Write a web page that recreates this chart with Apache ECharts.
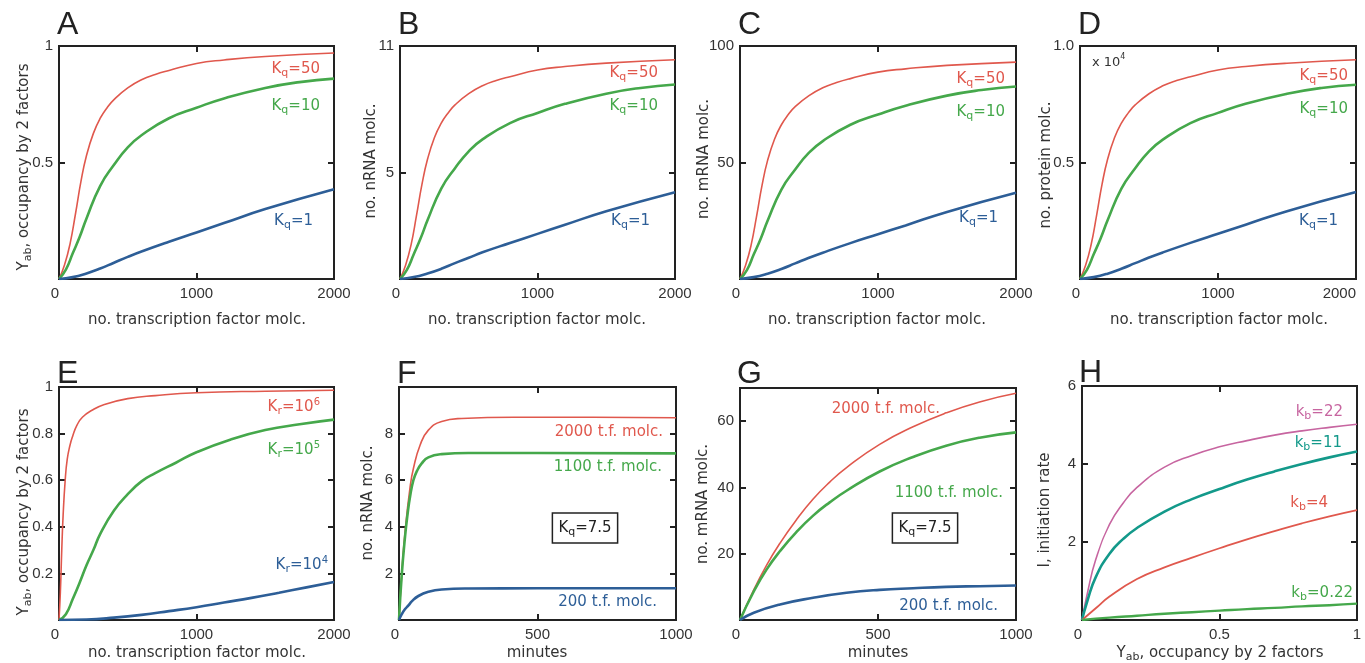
<!DOCTYPE html>
<html><head><meta charset="utf-8">
<script src="https://cdn.jsdelivr.net/npm/echarts@6/dist/echarts.min.js"></script>
<style>html,body{margin:0;padding:0;background:#fff}#c{width:1365px;height:663px}</style>
</head><body><div id="c"></div>
<script>
// ---------- DATA ----------
// Panels A-D : x = no. transcription factor molc.
const AD_x_red   = [0,40,80,120,160,200,250,300,350,400,500,600,700,800,1000,1200,1500,2000];
const AD_x_green = [0,50,100,150,200,300,400,500,600,800,1000,1200,1500,1750,2000];
const AD_x_blue  = [0,100,200,300,400,500,600,800,1000,1200,1500,2000];

const A_red   = [0,0.06,0.15,0.28,0.42,0.53,0.625,0.69,0.735,0.77,0.82,0.855,0.878,0.895,0.925,0.94,0.955,0.97];
const A_green = [0,0.04,0.11,0.18,0.26,0.40,0.49,0.565,0.617,0.69,0.735,0.775,0.82,0.845,0.86];
const A_blue  = [0,0.008,0.024,0.045,0.07,0.095,0.118,0.16,0.2,0.24,0.3,0.385];

const B_red   = [0,0.64,1.6,3.0,4.48,5.65,6.67,7.36,7.84,8.22,8.75,9.12,9.37,9.55,9.87,10.03,10.19,10.35];
const B_green = [0,0.43,1.17,1.92,2.77,4.27,5.23,6.03,6.59,7.36,7.84,8.27,8.75,9.02,9.18];
const B_blue  = [0,0.09,0.26,0.48,0.75,1.0,1.26,1.7,2.13,2.56,3.2,4.1];

const C_red   = [0,5.8,14.4,26.9,40.3,50.9,60,66.2,70.6,74,78.7,82.1,84.3,86,88.8,90.2,91.7,93.1];
const C_green = [0,3.8,10.6,17.3,25,38.4,47,54.2,59.2,66.2,70.6,74.4,78.7,81.1,82.6];
const C_blue  = [0,0.8,2.3,4.3,6.7,9.1,11.3,15.4,19.2,23,28.8,37];

const D_red   = [0,0.058,0.146,0.272,0.407,0.514,0.606,0.669,0.713,0.747,0.795,0.829,0.852,0.868,0.897,0.912,0.926,0.941];
const D_green = [0,0.039,0.107,0.175,0.252,0.388,0.475,0.548,0.598,0.669,0.713,0.752,0.795,0.82,0.834];
const D_blue  = [0,0.008,0.023,0.044,0.068,0.092,0.114,0.155,0.194,0.233,0.291,0.373];

// Panel E
const E_x_red   = [0,10,20,30,45,60,80,100,130,170,240,330,500,700,1000,1500,2000];
const E_red     = [0,0.12,0.3,0.45,0.6,0.69,0.75,0.79,0.835,0.87,0.9,0.925,0.95,0.963,0.975,0.982,0.986];
const E_x_green = [0,50,100,150,200,250,300,400,500,600,700,850,1000,1250,1500,1750,2000];
const E_green   = [0,0.025,0.09,0.16,0.235,0.3,0.37,0.47,0.54,0.595,0.63,0.675,0.72,0.775,0.815,0.84,0.86];
const E_x_blue  = [0,200,400,600,800,1000,1200,1400,1600,1800,2000];
const E_blue    = [0,0.002,0.01,0.022,0.038,0.055,0.075,0.095,0.117,0.14,0.163];

// Panel F : minutes
const F_x_red   = [0,10,22,40,52,76,106,154,226,413,700,1000];
const F_red     = [0,2.0,3.8,5.7,6.5,7.5,8.15,8.52,8.65,8.7,8.7,8.68];
const F_x_green = [0,10,22,31,40,52,65,82,106,154,250,500,1000];
const F_green   = [0,1.95,3.6,4.55,5.3,6.0,6.4,6.72,6.98,7.12,7.17,7.17,7.15];
const F_x_blue  = [0,10,22,35,46,70,106,154,250,500,1000];
const F_blue    = [0,0.25,0.47,0.64,0.8,1.03,1.21,1.31,1.35,1.36,1.36];

// Panel G : minutes
const G_x      = [0,48,96,145,205,265,325,386,506,627,747,868,1000];
const G_red    = [0,8.8,16.5,23.2,30.3,36.5,41.6,46,53,58.3,62.5,65.8,68.4];
const G_green  = [0,8.3,15.2,20.8,26.6,31.5,35.5,39,44.8,49.2,52.6,55,56.6];
const G_x_blue = [0,50,145,265,386,506,627,747,868,1000];
const G_blue   = [0,2.2,4.7,6.7,8.2,9.1,9.6,10,10.2,10.4];

// Panel H : Yab
const H_x      = [0,0.02,0.05,0.1,0.15,0.2,0.3,0.4,0.5,0.6,0.7,0.8,0.9,1];
const H_mag    = [0,0.7,1.55,2.45,3.0,3.4,3.92,4.22,4.44,4.6,4.74,4.85,4.94,5.02];
const H_teal   = [0,0.5,1.1,1.7,2.08,2.36,2.78,3.1,3.36,3.6,3.81,4.0,4.17,4.32];
const H_x_red  = [0,0.05,0.1,0.2,0.3,0.4,0.5,0.6,0.7,0.8,0.9,1];
const H_red    = [0,0.3,0.6,1.05,1.35,1.6,1.84,2.07,2.28,2.48,2.66,2.82];
const H_x_grn  = [0,0.1,0.2,0.3,0.4,0.5,0.6,0.7,0.8,0.9,1];
const H_grn    = [0,0.06,0.11,0.16,0.2,0.24,0.28,0.31,0.35,0.38,0.42];

// Tick / label values
const X2000_labels = [0,1000,2000], X2000_ticks = [1000];
const X1000_labels = [0,500,1000],  X1000_ticks = [500];
const X1_labels    = [0,0.5,1],     X1_ticks    = [0.5];

// ---------- STYLE ----------
const COL = {red:'#e0584d', green:'#45a84b', blue:'#2d5e97', mag:'#c765a0', teal:'#13998a'};
const zip = (xs, ys) => xs.map((x, i) => [x, ys[i]]);

const panels = [
  {g:[59,46,275,233],  xmax:2000, xl:X2000_labels, xt:X2000_ticks, ymax:1,   yl:[0.5,1],  yt:[0.5],
   s:[[AD_x_red,A_red,COL.red,1.6],[AD_x_green,A_green,COL.green,2.6],[AD_x_blue,A_blue,COL.blue,2.6]]},
  {g:[400,46,275,233], xmax:2000, xl:X2000_labels, xt:X2000_ticks, ymax:11,  yl:[5,11],   yt:[5],
   s:[[AD_x_red,B_red,COL.red,1.6],[AD_x_green,B_green,COL.green,2.6],[AD_x_blue,B_blue,COL.blue,2.6]]},
  {g:[740,46,276,233], xmax:2000, xl:X2000_labels, xt:X2000_ticks, ymax:100, yl:[50,100], yt:[50],
   s:[[AD_x_red,C_red,COL.red,1.6],[AD_x_green,C_green,COL.green,2.6],[AD_x_blue,C_blue,COL.blue,2.6]]},
  {g:[1080,46,276,233],xmax:2000, xl:X2000_labels, xt:X2000_ticks, ymax:1,   yl:[0.5,1],  yt:[0.5], yfmt:v=>Number(v).toFixed(1), xr:true,
   s:[[AD_x_red,D_red,COL.red,1.6],[AD_x_green,D_green,COL.green,2.6],[AD_x_blue,D_blue,COL.blue,2.6]]},
  {g:[59,387,275,233], xmax:2000, xl:X2000_labels, xt:X2000_ticks, ymax:1,   yl:[0.2,0.4,0.6,0.8,1], yt:[0.2,0.4,0.6,0.8],
   s:[[E_x_red,E_red,COL.red,1.6],[E_x_green,E_green,COL.green,2.6],[E_x_blue,E_blue,COL.blue,2.6]]},
  {g:[399,387,277,233],xmax:1000, xl:X1000_labels, xt:X1000_ticks, ymax:10,  yl:[2,4,6,8], yt:[2,4,6,8],
   s:[[F_x_red,F_red,COL.red,1.6],[F_x_green,F_green,COL.green,2.6],[F_x_blue,F_blue,COL.blue,2.6]]},
  {g:[740,388,276,232],xmax:1000, xl:X1000_labels, xt:X1000_ticks, ymax:70,  yl:[20,40,60], yt:[20,40,60],
   s:[[G_x,G_red,COL.red,1.6],[G_x,G_green,COL.green,2.6],[G_x_blue,G_blue,COL.blue,2.6]]},
  {g:[1082,386,275,234],xmax:1,   xl:X1_labels,    xt:X1_ticks,    ymax:6,   yl:[2,4,6],  yt:[2,4],
   s:[[H_x,H_mag,COL.mag,1.6],[H_x,H_teal,COL.teal,2.6],[H_x_red,H_red,COL.red,1.8],[H_x_grn,H_grn,COL.green,2.4]]}
];

const AX = '#222', TXT = '#333';
const tickFont = {color:TXT, fontFamily:'Liberation Sans', fontSize:15};
const plain = v => String(v);
const grid = [], xAxis = [], yAxis = [], series = [];
panels.forEach((p, i) => {
  grid.push({left:p.g[0], top:p.g[1], width:p.g[2], height:p.g[3], containLabel:false, outerBoundsMode:'none'});
  ['bottom','top'].forEach(pos => xAxis.push({
    type:'value', gridIndex:i, position:pos, min:0, max:p.xmax,
    axisLine:{show:true, onZero:false, lineStyle:{color:AX, width:2, cap:'square'}},
    axisTick:{show:true, inside:true, length:6, lineStyle:{color:AX, width:2}, customValues:p.xt},
    axisLabel:Object.assign({show:pos==='bottom', customValues:p.xl, margin:7, formatter:plain,
      alignMinLabel:'right', alignMaxLabel:p.xr ? 'right' : 'center'}, tickFont),
    splitLine:{show:false}
  }));
  ['left','right'].forEach(pos => yAxis.push({
    type:'value', gridIndex:i, position:pos, min:0, max:p.ymax,
    axisLine:{show:true, onZero:false, lineStyle:{color:AX, width:2, cap:'square'}},
    axisTick:{show:true, inside:true, length:6, lineStyle:{color:AX, width:2}, customValues:p.yt},
    axisLabel:Object.assign({show:pos==='left', customValues:p.yl, margin:6, formatter:p.yfmt || plain}, tickFont),
    splitLine:{show:false}
  }));
  p.s.forEach(s => series.push({
    type:'line', xAxisIndex:2*i, yAxisIndex:2*i, data:zip(s[0], s[1]),
    showSymbol:false, symbol:'none', smooth:0.5,
    lineStyle:{color:s[2], width:s[3]}, silent:true
  }));
});

// ---------- TEXT ----------
const LF = 'DejaVu Sans';
function rich(c, fs) {
  fs = fs || 15;
  return {
    n:{fontSize:fs, fontFamily:LF, fill:c, lineHeight:20},
    s:{fontSize:fs-4, fontFamily:LF, fill:c, verticalAlign:'bottom'},
    p:{fontSize:fs-5, fontFamily:LF, fill:c, verticalAlign:'top'}
  };
}
function T(x, y, text, c, align, extra) {
  return {type:'text', x:x, y:y, silent:true, z:100, style:Object.assign({
    text:text, rich:rich(c), fill:c, font:'15px "'+LF+'"',
    align:align||'right', verticalAlign:'middle', textAlign:align||'right', textVerticalAlign:'middle'
  }, extra||{})};
}
function R(x, y, text, rot) {
  return {type:'text', x:x, y:y, rotation:rot?Math.PI/2:0, silent:true, z:100, style:{
    text:text, rich:rich(TXT), fill:TXT, font:'15px "'+LF+'"',
    align:'center', verticalAlign:'middle', textAlign:'center', textVerticalAlign:'middle'}};
}
function L(x, y, t) {
  return {type:'text', x:x, y:y, silent:true, style:{text:t, fill:'#222', font:'32px "Liberation Sans"',
    align:'left', verticalAlign:'middle', textAlign:'left', textVerticalAlign:'middle'}};
}
const kq = v => '{n|K}{s|q}{n|=' + v + '}';
const kr = e => '{n|K}{s|r}{n|=10}{p|' + e + '}';
const kb = v => '{n|k}{s|b}{n|=' + v + '}';
const yab = '{n|Y}{s|ab}{n|, occupancy by 2 factors}';
const boxStyle = {borderColor:'#222', borderWidth:1.5, padding:[5,6,5,6]};

const graphic = [
  L(57,25,'A'), L(398,25,'B'), L(738,25,'C'), L(1078,25,'D'),
  L(57,374,'E'), L(397,374,'F'), L(737,374,'G'), L(1079,373,'H'),
  // axis titles
  R(24,167,yab,true), R(371,161,'{n|no. nRNA molc.}',true), R(704,159,'{n|no. mRNA molc.}',true), R(1046,165,'{n|no. protein molc.}',true),
  R(24,512,yab,true), R(368,503,'{n|no. nRNA molc.}',true), R(703,504,'{n|no. mRNA molc.}',true), R(1045,510,'{n|I, initiation rate}',true),
  R(197,320,'{n|no. transcription factor molc.}'), R(537,320,'{n|no. transcription factor molc.}'),
  R(877,320,'{n|no. transcription factor molc.}'), R(1219,320,'{n|no. transcription factor molc.}'),
  R(197,653,'{n|no. transcription factor molc.}'), R(537,653,'{n|minutes}'), R(878,653,'{n|minutes}'), R(1220,653,yab),
  // curve labels
  T(320,69,kq(50),COL.red), T(320,106,kq(10),COL.green), T(313,221,kq(1),COL.blue),
  T(658,73,kq(50),COL.red), T(658,106,kq(10),COL.green), T(650,221,kq(1),COL.blue),
  T(1005,79,kq(50),COL.red), T(1005,112,kq(10),COL.green), T(998,218,kq(1),COL.blue),
  T(1348,76,kq(50),COL.red), T(1348,109,kq(10),COL.green), T(1338,221,kq(1),COL.blue),
  {type:'text', x:1092, y:63, silent:true, style:{text:'{n|x 10}{p|4}', rich:rich(TXT,13), fill:TXT, font:'13px "'+LF+'"',
    align:'left', verticalAlign:'middle', textAlign:'left', textVerticalAlign:'middle'}},
  T(320,407,kr(6),COL.red), T(320,450,kr(5),COL.green), T(328,565,kr(4),COL.blue),
  T(663,432,'{n|2000 t.f. molc.}',COL.red), T(662,467,'{n|1100 t.f. molc.}',COL.green), T(657,602,'{n|200 t.f. molc.}',COL.blue),
  T(585,528,kq(7.5),'#222','center',boxStyle),
  T(940,409,'{n|2000 t.f. molc.}',COL.red), T(1003,493,'{n|1100 t.f. molc.}',COL.green), T(998,606,'{n|200 t.f. molc.}',COL.blue),
  T(925,528,kq(7.5),'#222','center',boxStyle),
  T(1343,412,kb(22),COL.mag), T(1342,443,kb(11),COL.teal), T(1328,503,kb(4),COL.red), T(1353,593,kb(0.22),COL.green)
];

const chart = echarts.init(document.getElementById('c'), null, {renderer:'canvas'});
chart.setOption({animation:false, backgroundColor:'#fff', grid, xAxis, yAxis, series, graphic});
</script>
</body></html>
